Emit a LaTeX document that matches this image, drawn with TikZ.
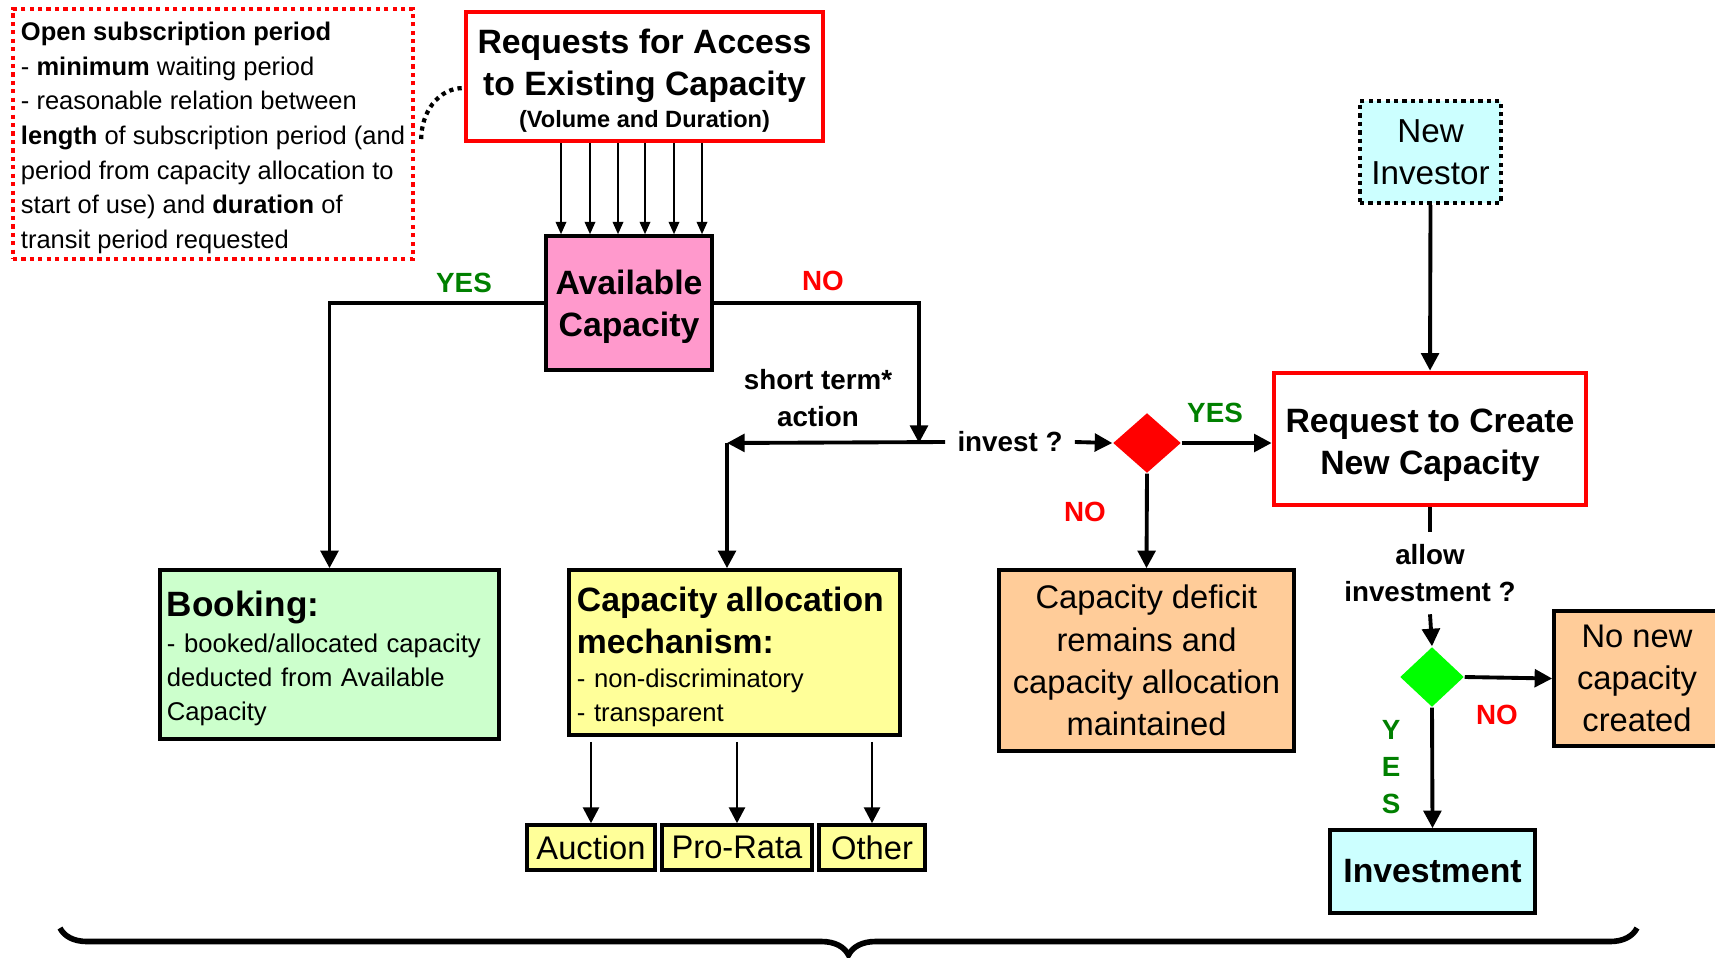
\documentclass[tikz,border=0pt]{standalone}
\usepackage{fontspec}
\setmainfont{Liberation Sans}
\usetikzlibrary{positioning}
\usetikzlibrary{shapes.geometric, arrows.meta, decorations.pathreplacing}

\definecolor{pinkbox}{HTML}{FF99CC}
\definecolor{greenbox}{HTML}{CCFFCC}
\definecolor{yellowbox}{HTML}{FFFF99}
\definecolor{orangebox}{HTML}{FFCC99}
\definecolor{cyanbox}{HTML}{CCFFFF}
\definecolor{yesgreen}{HTML}{008000}

\newcommand{\bigbold}{\fontsize{9.6pt}{12pt}\selectfont\bfseries}
\newcommand{\midtext}{\fontsize{9.3pt}{12pt}\selectfont}
\newcommand{\smalltext}{\fontsize{7.3pt}{9.7pt}\selectfont}
\newcommand{\labeltext}{\fontsize{7.9pt}{10.6pt}\selectfont\bfseries}
\newcommand{\topstrut}[1]{\rule{0pt}{#1}}

\tikzset{
  box/.style={draw=black, line width=1pt, inner sep=0pt, align=center},
  redbox/.style={draw=red, line width=1.3pt, fill=white, inner sep=0pt, align=center, font=\bigbold},
  dotbox/.style={dash pattern=on 1.2pt off 1.2pt, line width=1.2pt},
  conn/.style={line width=1.1pt, -{Triangle[length=5pt,width=5pt]}},
  thinconn/.style={line width=0.5pt, -{Triangle[length=3.5pt,width=3pt]}},
  midconn/.style={line width=0.8pt, -{Triangle[length=4.5pt,width=4.5pt]}},
  yes/.style={font=\labeltext, text=yesgreen},
  no/.style={font=\labeltext, text=red},
  lbl/.style={font=\labeltext, align=center},
}

\begin{document}
\begin{tikzpicture}[x=0.01cm, y=-0.01cm]
\useasboundingbox (0,0) rectangle (1715,957);

% upper part
\node[draw=red, dotbox, align=left, minimum width=4cm, minimum height=2.5cm, inner sep=0pt, font=\fontsize{7.25pt}{9.85pt}\selectfont] (open) at (213,134)
  {\topstrut{7.5pt}\textbf{Open subscription period}\\
   - \textbf{minimum} waiting period\\
   - reasonable relation between\\
   \textbf{length} of subscription period (and\\
   period from capacity allocation to\\
   start of use) and \textbf{duration} of\\
   transit period requested};
\node[redbox, minimum width=3.57cm, minimum height=1.29cm] (req) at (644.5,76.5)
  {\topstrut{9.2pt}Requests for Access\\to Existing Capacity\\[-3pt]{\fontsize{6.7pt}{8pt}\selectfont (Volume and Duration)}};
\node[box, fill=pinkbox, minimum width=1.66cm, minimum height=1.34cm, font=\bigbold] (avail) at (629,303) {\topstrut{9pt}Available\\Capacity};
\node[box, draw=black, dotbox, fill=cyanbox, minimum width=1.41cm, minimum height=1.02cm, font=\fontsize{9.45pt}{11.8pt}\selectfont] (investor) at (1430.5,152) {New\\Investor};

% lower part
\node[box, fill=greenbox, text width=3.25cm, inner xsep=0.07cm, minimum height=1.69cm, align=left, font=\smalltext] (book) at (329.5,654.5)
  {{\fontsize{10pt}{12pt}\selectfont\bfseries \topstrut{9.6pt}Booking:}\\[0.4pt]
   - booked/allocated capacity\\ deducted from Available\\ Capacity};
\node[box, fill=yellowbox, text width=3.15cm, inner xsep=0.08cm, minimum height=1.65cm, align=left, font=\smalltext] (alloc) at (734.5,652.5)
  {{\bigbold \topstrut{9.5pt}Capacity allocation\\[2.3pt] mechanism:}\\[0pt]
   - non-discriminatory\\ - transparent};
\node[box, fill=yellowbox, minimum width=1.28cm, minimum height=0.45cm, font=\midtext] (auction) at (591,847.5) {Auction};
\node[box, fill=yellowbox, minimum width=1.50cm, minimum height=0.45cm, font=\midtext] (prorata) at (737,847.5) {Pro-Rata};
\node[box, fill=yellowbox, minimum width=1.06cm, minimum height=0.45cm, font=\midtext] (other) at (872,847.5) {Other};
\node[box, fill=orangebox, minimum width=2.95cm, minimum height=1.81cm, font=\midtext] (deficit) at (1146.5,660.5)
  {Capacity deficit\\remains and\\capacity allocation\\maintained};

% decisions
\node[diamond, fill=red, minimum width=0.68cm, minimum height=0.6cm, inner sep=0pt] (rdia) at (1147,443) {};
\node[redbox, minimum width=3.12cm, minimum height=1.32cm] (create) at (1430,439) {\topstrut{10.1pt}Request to Create\\New Capacity};
\node[diamond, fill=green, minimum width=0.64cm, minimum height=0.6cm, inner sep=0pt] (gdia) at (1432,677) {};
\node[box, fill=orangebox, minimum width=1.66cm, minimum height=1.35cm, font=\midtext] (nonew) at (1637,678.5) {No new\\capacity\\created};
\node[box, fill=cyanbox, minimum width=2.05cm, minimum height=0.83cm, font=\bigbold] (investment) at (1432.5,871.5) {Investment};

% labels
\node[yes] (yesbook) at (464,283) {YES};
\node[no] (noavail) at (823,281) {NO};
\node[lbl] (short) at (818,398) {short term*\\action};
\node[lbl] (inv) at (1010,442) {invest ?};
\node[yes] (yescreate) at (1215,413) {YES};
\node[no] (nodeficit) at (1085,512) {NO};
\node[lbl] (allow) at (1430,573) {allow\\investment ?};
\node[no] (nonewlbl) at (1497,715) {NO};
\node[yes, align=center, font=\fontsize{7.9pt}{10.5pt}\selectfont\bfseries] (yesinv) at (1391,767) {Y\\E\\S};

% connectors
\foreach \x in {561,590,618,645,674,702}
  \draw[thinconn] (\x,0 |- req.south) -- (\x,0 |- avail.north);
\draw[dotbox] ([xshift=0.06cm,yshift=-0.05cm]open.east) to[out=90,in=180] ([yshift=-0.115cm]req.west);
\draw[conn] (avail.west) -| (book.north);
\coordinate (drop) at (919,443);
\coordinate (turn) at (727,443);
\draw[conn] (avail.east) -| (drop);
\draw[conn] (inv.west) -- (turn);
\draw[conn] (turn) -- (turn |- alloc.north);
\draw[conn] (inv.east) -- (rdia.west);
\draw[conn] (rdia.east) -- (rdia.east -| create.west);
\draw[conn] (rdia.south) -- (deficit.north);
\draw[conn] (investor.south) -- (create.north);
\draw[line width=1.1pt] (create.south) -- (allow.north);
\draw[conn] (allow.south) -- (gdia.north);
\draw[conn] (gdia.east) -- (nonew.west);
\draw[conn] (gdia.south) -- (investment.north);
\foreach \b in {auction,prorata,other}
  \draw[midconn, shorten <=0.05cm] (\b.north |- alloc.south) -- (\b.north);

% brace
\draw[decorate, decoration={brace, amplitude=0.27cm}, line width=1.6pt] (1637,928) -- (60,928);

\end{tikzpicture}
\end{document}
